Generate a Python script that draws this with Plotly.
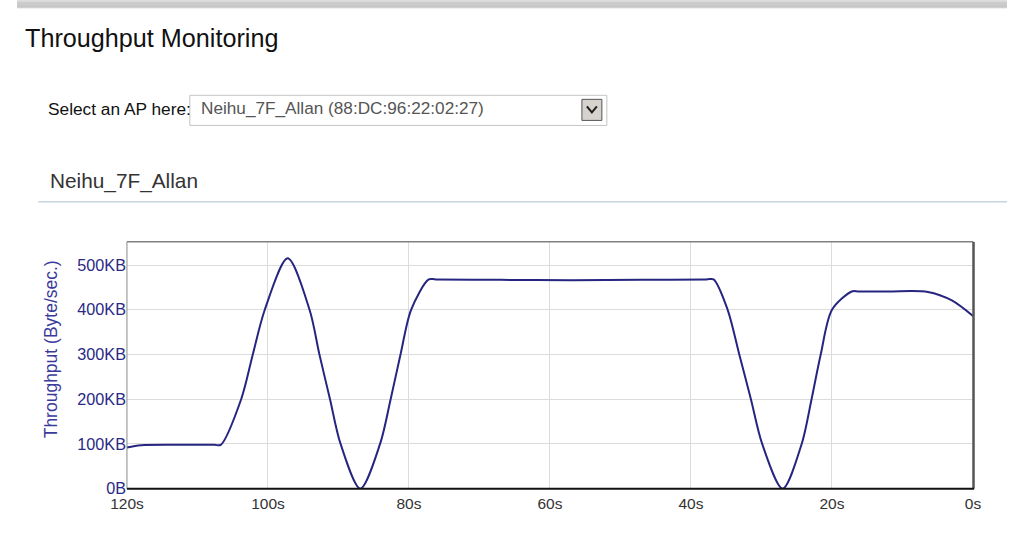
import plotly.graph_objects as go

# ---- data ----
seconds = [120, 118, 112, 107.6, 106.7, 103.8, 102.15, 100.45, 97.2, 94.1, 92.7, 91.2, 89.7, 86.9,
           84.1, 82.6, 81.2, 79.7, 77.2, 76.2, 67, 57, 47, 37.8, 36.8, 34.8, 33.15, 31.5, 29.9, 27.0,
           24.3, 22.9, 21.6, 20.0, 17.2, 16.2, 12, 6.4, 3, 0]
throughput_kb = [92, 97, 98, 98, 98, 200, 300, 400, 515, 400, 300, 200, 100, 0,
                 100, 200, 300, 400, 468, 468, 467, 466, 467, 468, 468, 400, 300, 200, 100, 0,
                 100, 200, 300, 400, 441, 441, 441, 440, 421, 386]
y_tick_values = [0, 100, 200, 300, 400, 500]
y_tick_labels = ["0B", "100KB", "200KB", "300KB", "400KB", "500KB"]
x_tick_values = [120, 100, 80, 60, 40, 20, 0]
x_tick_labels = ["120s", "100s", "80s", "60s", "40s", "20s", "0s"]

W, H = 1015, 540
FONT = "Arial, Liberation Sans, sans-serif"

# the page photo shows the figure slightly scaled/offset; map target screen pixels to figure pixels
SX, OX = 0.9776, 16.8
SY, OY = 0.98, 2.0


def fx(t):
    return (t - OX) / SX


def fy(t):
    return (t - OY) / SY


def px(t):
    return fx(t) / W


def py(t):
    return 1 - fy(t) / H


fig = go.Figure()
fig.add_trace(go.Scatter(
    x=seconds, y=throughput_kb, mode="lines",
    line=dict(color="#262680", width=2, shape="spline", smoothing=0.85),
    hoverinfo="skip", showlegend=False,
))

shapes = []
# page shadow along the top
top_cols = ["#dedede", "#d6d6d6", "#cfcfcf", "#c8c8c8", "#c1c1c1", "#bbbbbb", "#b7b7b7", "#c6c6c6"]
for i, c in enumerate(top_cols):
    shapes.append(dict(type="rect", xref="paper", yref="paper", x0=0, x1=1,
                       y0=1 - (i * 1.05) / H, y1=1 - ((i + 1) * 1.05) / H,
                       fillcolor=c, line=dict(width=0), layer="below"))
# dropdown box
shapes.append(dict(type="rect", xref="paper", yref="paper", x0=px(190), x1=px(608), y0=py(97), y1=py(127),
                   fillcolor="white", line=dict(color="#c4c4c4", width=1)))
shapes.append(dict(type="rect", xref="paper", yref="paper", x0=px(583), x1=px(603), y0=py(101), y1=py(122),
                   fillcolor="#d6d3ce", line=dict(color="#555555", width=1)))
shapes.append(dict(type="path", xref="paper", yref="paper",
                   path=f"M {px(588)} {py(108)} L {px(593)} {py(114)} L {px(598)} {py(108)}",
                   line=dict(color="#202020", width=2)))
# separator line
shapes.append(dict(type="line", xref="paper", yref="paper", x0=px(38), x1=1, y0=py(203), y1=py(203),
                   line=dict(color="#c3d6e2", width=1.5)))
# plot frame
L, R, T, B = 127, 975, 243, 489
shapes.append(dict(type="line", xref="paper", yref="paper", x0=px(L), x1=px(R), y0=py(T), y1=py(T),
                   line=dict(color="#808080", width=1.5)))
shapes.append(dict(type="line", xref="paper", yref="paper", x0=px(R + 0.5), x1=px(R + 0.5), y0=py(T), y1=py(B),
                   line=dict(color="#555555", width=2.5)))
shapes.append(dict(type="line", xref="paper", yref="paper", x0=px(L), x1=px(L), y0=py(T), y1=py(B),
                   line=dict(color="#8a8a8a", width=1)))
shapes.append(dict(type="line", xref="paper", yref="paper", x0=px(L), x1=px(R + 1), y0=py(B), y1=py(B),
                   line=dict(color="#111111", width=2)))

annotations = [
    dict(text="Throughput Monitoring", x=px(23.3), y=py(40), xanchor="left", yanchor="middle",
         font=dict(family=FONT, size=25.2, color="#111111")),
    dict(text="Select an AP here:", x=px(46.3), y=py(111), xanchor="left", yanchor="middle",
         font=dict(family=FONT, size=17.3, color="#111111")),
    dict(text="Neihu_7F_Allan (88:DC:96:22:02:27)", x=px(199.3), y=py(110), xanchor="left", yanchor="middle",
         font=dict(family=FONT, size=17.2, color="#555555")),
    dict(text="Neihu_7F_Allan", x=px(48.3), y=py(182), xanchor="left", yanchor="middle",
         font=dict(family=FONT, size=20.8, color="#333333")),
    dict(text="Throughput (Byte/sec.)", x=px(51), y=py(350), xanchor="center", yanchor="middle",
         textangle=-90, font=dict(family=FONT, size=17.5, color="#3a3a9c")),
]
for a in annotations:
    a.update(xref="paper", yref="paper", showarrow=False)

fig.update_layout(
    width=W, height=H,
    margin=dict(l=0, r=0, t=0, b=0),
    paper_bgcolor="white", plot_bgcolor="white",
    shapes=shapes, annotations=annotations,
    xaxis=dict(domain=[px(L), px(R)], range=[120, 0], tickvals=x_tick_values, ticktext=x_tick_labels,
               showgrid=True, gridcolor="#dcdcdc", gridwidth=1, zeroline=False, showline=False,
               ticks="outside", ticklen=1, tickcolor="rgba(0,0,0,0)",
               tickfont=dict(family=FONT, size=15.5, color="#333333"), fixedrange=True),
    yaxis=dict(domain=[py(B), py(T)], range=[0, 552], tickvals=y_tick_values, ticktext=y_tick_labels,
               showgrid=True, gridcolor="#dcdcdc", gridwidth=1, zeroline=False, showline=False,
               ticks="", tickfont=dict(family=FONT, size=16.2, color="#2a2a86"), fixedrange=True),
)

fig.write_html(
    "out.html",
    config={"displayModeBar": False, "staticPlot": True},
    post_script="document.documentElement.style.margin='0';document.body.style.margin='0';"
                "document.body.style.overflow='hidden';document.documentElement.style.overflow='hidden';"
                "document.body.style.background='linear-gradient(to right,#e2e2e2 0px,#b6b6b6 9px,#ffffff 10px)';",
)
